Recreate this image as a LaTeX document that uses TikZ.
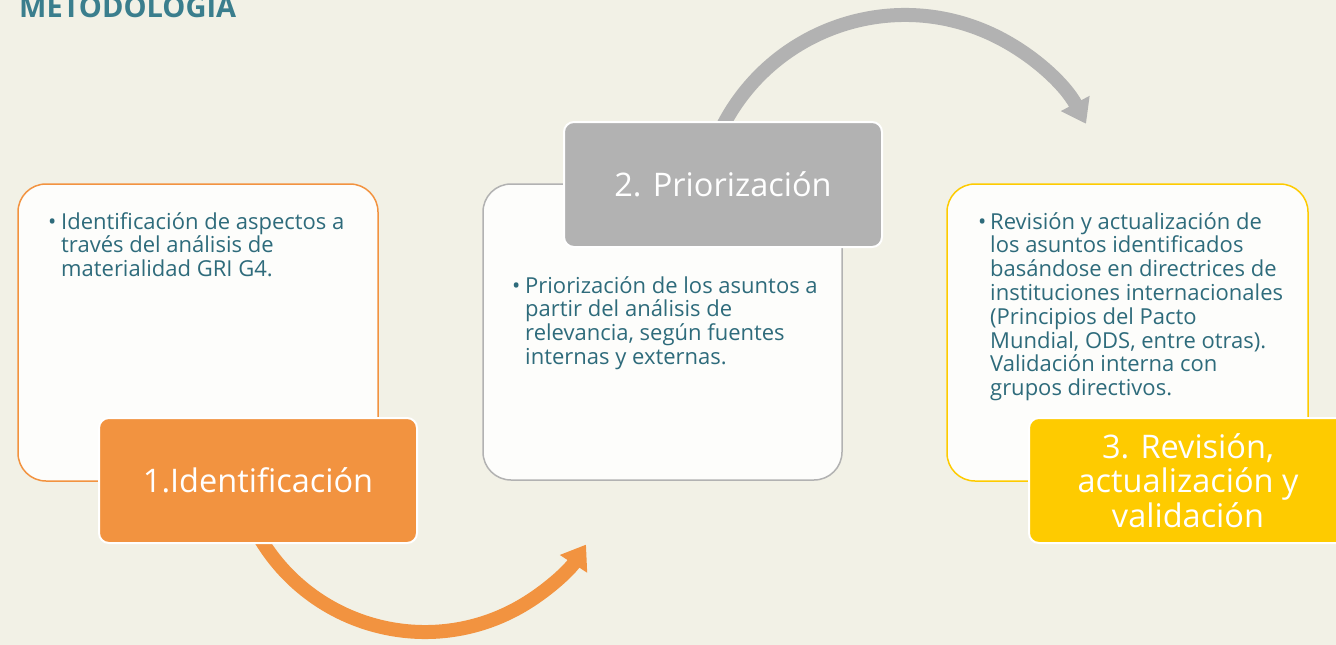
\documentclass[tikz,border=0pt]{standalone}
\usepackage{fontspec}
\setmainfont{Open Sans}
\usetikzlibrary{arrows.meta}
\definecolor{bgc}{HTML}{F2F1E6}
\definecolor{cardc}{HTML}{FDFDFB}
\definecolor{orangec}{HTML}{F29340}
\definecolor{grayc}{HTML}{B2B2B2}
\definecolor{yellowc}{HTML}{FECB00}
\definecolor{bodyc}{HTML}{2E6B7B}
\definecolor{titlec}{HTML}{3A7E8D}
\begin{document}
\begin{tikzpicture}[x=1pt,y=-1pt,
  card/.style={draw, line width=1.5pt, fill=cardc, rounded corners=28pt, inner sep=0pt},
  steplabel/.style={draw=white, line width=2pt, rounded corners=10pt, minimum width=318pt, minimum height=125pt, text=white, font=\fontsize{32.5}{34.5}\selectfont, align=center, inner sep=0pt},
  bodytext/.style={text=bodyc, inner sep=0pt, anchor=base west, font=\fontsize{22}{23.5}\selectfont},
  flow/.style={line width=14pt, -{Triangle[length=23pt,width=31pt]}}
]
\useasboundingbox (0,0) rectangle (1336,645);
\clip (0,0) rectangle (1336,645);
\fill[bgc] (0,0) rectangle (1336,645);

\node[anchor=base west, inner sep=0pt, text=titlec, font=\bfseries\fontsize{29}{29}\selectfont] (title) at (19,17) {METODOLOGÍA};

% arcs
\coordinate (oc) at (425,440);
\coordinate (gc) at (905,220);
\draw[flow, draw=orangec] (oc) ++(150:192) arc[start angle=150, end angle=33, radius=192];
\draw[flow, draw=grayc] (gc) ++(205:205) arc[start angle=205, end angle=332, radius=205];

% cards
\node[card, draw=orangec, minimum width=360pt, minimum height=297pt] (c1) at (198,332.5) {};
\node[card, draw=grayc, minimum width=359pt, minimum height=296pt] (c2) at (662.5,332) {};
\node[card, draw=yellowc, minimum width=361pt, minimum height=297pt] (c3) at (1127.5,332.5) {};

\node[bodytext] (t1) at (48,229) {\begin{tabular}[t]{@{}l@{}l@{}}\makebox[13pt][l]{•}&Identificación de aspectos a\\ &través del análisis de\\ &materialidad GRI G4.\end{tabular}};
\node[bodytext] (t2) at (512,293) {\begin{tabular}[t]{@{}l@{}l@{}}\makebox[13pt][l]{•}&Priorización de los asuntos a\\ &partir del análisis de\\ &relevancia, según fuentes\\ &internas y externas.\end{tabular}};
\node[bodytext] (t3) at (978,229) {\begin{tabular}[t]{@{}l@{}l@{}}\makebox[12pt][l]{•}&Revisión y actualización de\\ &los asuntos identificados\\ &basándose en directrices de\\ &instituciones internacionales\\ &(Principios del Pacto\\ &Mundial, ODS, entre otras).\\ &Validación interna con\\ &grupos directivos.\end{tabular}};

% step labels
\node[steplabel, fill=orangec] (l1) at (258,480.5) {1.Identificación};
\node[steplabel, fill=grayc] (l2) at (723,184.5) {2. Priorización};
\node[steplabel, fill=yellowc] (l3) at (1188,480.5) {3. Revisión,\\actualización y\\validación};
\end{tikzpicture}
\end{document}
